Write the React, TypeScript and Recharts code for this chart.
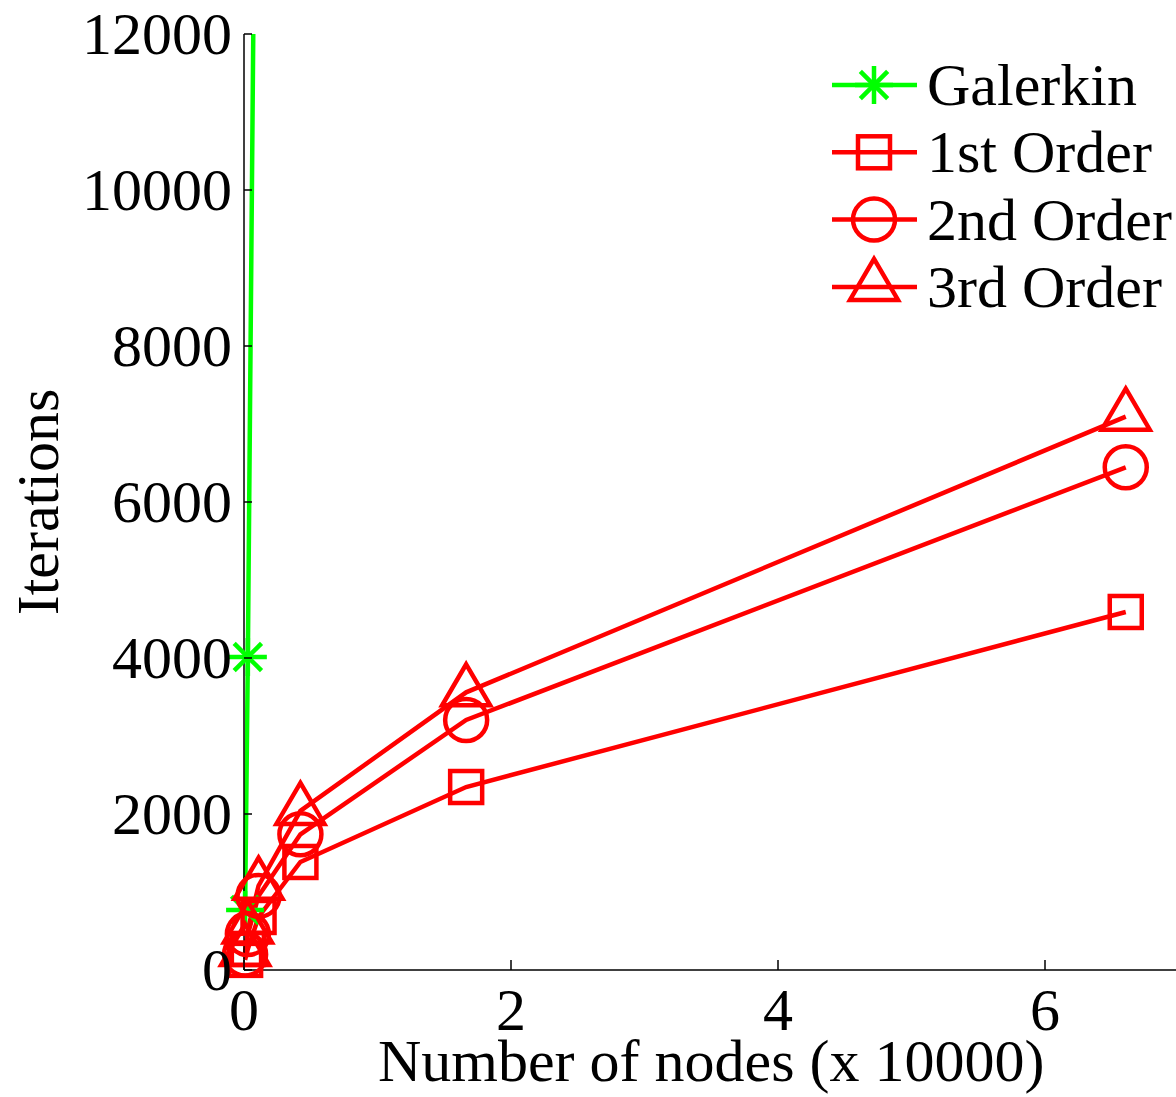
import React from 'react';
import { ComposedChart, Line, Scatter, XAxis, YAxis, Legend } from 'recharts';

// Number of nodes, in units of 10000
const nodesX = [0.0081, 0.0289, 0.1089, 0.4225, 1.6641, 6.6049];
const firstOrder = [130, 270, 680, 1385, 2346, 4590];
const secondOrder = [200, 460, 950, 1740, 3205, 6445];
const thirdOrder = [230, 520, 1080, 2040, 3560, 7094];

const galerkinX = [0.0081, 0.0289, 0.1089];
const galerkinY = [770, 4013, 19800];

const xTicks = [0, 2, 4, 6];
const yTicks = [0, 2000, 4000, 6000, 8000, 10000, 12000];

const RED = '#ff0000';
const GREEN = '#00ff00';
const FONT = '"Liberation Serif", "Times New Roman", serif';
const FS = 60;

// layout constants
const CHART_W = 1190;
const CHART_H = 1097;
const M_TOP = 34;
const M_RIGHT = 11.5;
const Y_AXIS_W = 244;
const X_AXIS_H = 127;
const AXIS_X = Y_AXIS_W; // left margin is 0
const AXIS_Y = CHART_H - X_AXIS_H;

const toPts = (xs: number[], ys: number[]) => xs.map((x, i) => ({ x, y: ys[i] }));
const firstData = toPts(nodesX, firstOrder);
const secondData = toPts(nodesX, secondOrder);
const thirdData = toPts(nodesX, thirdOrder);
const galerkinData = toPts(galerkinX, galerkinY);
const galerkinVisible = galerkinData.filter((p) => p.y <= 12000);

const SW = 4.5;

const squarePath = (cx: number, cy: number) => (
  <rect x={cx - 16} y={cy - 16} width={32} height={32} fill="none" stroke={RED} strokeWidth={SW} />
);
const circlePath = (cx: number, cy: number) => (
  <circle cx={cx} cy={cy} r={21} fill="none" stroke={RED} strokeWidth={SW} />
);
const trianglePath = (cx: number, cy: number) => (
  <path
    d={`M${cx},${cy - 28} L${cx + 24},${cy + 13} L${cx - 24},${cy + 13} Z`}
    fill="none"
    stroke={RED}
    strokeWidth={SW}
    strokeLinejoin="miter"
  />
);
const starPath = (cx: number, cy: number) => {
  const a = 19;
  const d = a * 0.72;
  return (
    <g stroke={GREEN} strokeWidth={SW}>
      <line x1={cx - a} y1={cy} x2={cx + a} y2={cy} />
      <line x1={cx} y1={cy - a} x2={cx} y2={cy + a} />
      <line x1={cx - d} y1={cy - d} x2={cx + d} y2={cy + d} />
      <line x1={cx - d} y1={cy + d} x2={cx + d} y2={cy - d} />
    </g>
  );
};

const SquareDot = (p: any) => <g key={p.key ?? p.index}>{squarePath(p.cx, p.cy)}</g>;
const CircleDot = (p: any) => <g key={p.key ?? p.index}>{circlePath(p.cx, p.cy)}</g>;
const TriangleDot = (p: any) => <g key={p.key ?? p.index}>{trianglePath(p.cx, p.cy)}</g>;
const StarShape = (p: any) => <g>{starPath(p.cx, p.cy)}</g>;

const YTick = (props: any) => {
  const { y, payload } = props;
  return (
    <g>
      <line x1={AXIS_X} y1={y} x2={AXIS_X + 8} y2={y} stroke="#000" strokeWidth={1.5} />
      <text x={AXIS_X - 12} y={y} dy="0.34em" textAnchor="end" fontFamily={FONT} fontSize={FS} fill="#000">
        {payload.value}
      </text>
    </g>
  );
};

const XTick = (props: any) => {
  const { x, payload } = props;
  return (
    <g>
      <line x1={x} y1={AXIS_Y} x2={x} y2={AXIS_Y - 10} stroke="#000" strokeWidth={1.5} />
      <text x={x} y={AXIS_Y + 60} textAnchor="middle" fontFamily={FONT} fontSize={FS} fill="#000">
        {payload.value}
      </text>
    </g>
  );
};

const legendItems = [
  { name: 'Galerkin', color: GREEN, marker: starPath },
  { name: '1st Order', color: RED, marker: squarePath },
  { name: '2nd Order', color: RED, marker: circlePath },
  { name: '3rd Order', color: RED, marker: trianglePath },
];

const LegendContent = () => (
  <svg width={356} height={290} style={{ display: 'block' }}>
    {legendItems.map((it, i) => {
      const cy = 45 + i * 67.3;
      return (
        <g key={it.name}>
          <line x1={12} y1={cy} x2={97} y2={cy} stroke={it.color} strokeWidth={SW} />
          {it.marker(54, cy)}
          <text x={107} y={cy + 20} fontFamily={FONT} fontSize={FS} fill="#000">
            {it.name}
          </text>
        </g>
      );
    })}
  </svg>
);

export default function App() {
  return (
    <div style={{ position: 'absolute', left: 0, top: 0, width: 1176, height: 1097, overflow: 'hidden', background: '#fff' }}>
      <ComposedChart width={CHART_W} height={CHART_H} margin={{ top: M_TOP, right: M_RIGHT, left: 0, bottom: 0 }}>
        <XAxis
          type="number"
          dataKey="x"
          domain={[0, 7]}
          ticks={xTicks}
          interval={0}
          height={X_AXIS_H}
          tickSize={0}
          tickMargin={0}
          tickLine={false}
          tick={XTick}
          axisLine={{ stroke: '#000', strokeWidth: 1.5 }}
          label={{
            content: (p: any) => {
              const vb = p.viewBox || {};
              return (
                <text x={vb.x + vb.width / 2} y={1081} textAnchor="middle" fontFamily={FONT} fontSize={FS} fill="#000">
                  Number of nodes (x 10000)
                </text>
              );
            },
          }}
        />
        <YAxis
          yAxisId="main"
          type="number"
          domain={[0, 12000]}
          ticks={yTicks}
          interval={0}
          width={Y_AXIS_W}
          tickSize={0}
          tickMargin={0}
          tickLine={false}
          tick={YTick}
          axisLine={{ stroke: '#000', strokeWidth: 1.5 }}
          label={{
            content: (p: any) => {
              const vb = p.viewBox || {};
              const cy = vb.y + vb.height / 2;
              return (
                <text
                  x={58}
                  y={cy}
                  transform={`rotate(-90, 58, ${cy})`}
                  textAnchor="middle"
                  fontFamily={FONT}
                  fontSize={FS}
                  fill="#000"
                >
                  Iterations
                </text>
              );
            },
          }}
        />
        <YAxis yAxisId="clip" type="number" domain={[0, 12000]} allowDataOverflow hide width={0} />
        <Legend
          layout="vertical"
          align="center"
          verticalAlign="middle"
          content={LegendContent}
          wrapperStyle={{ position: 'absolute', left: 820, top: 40, width: 356, height: 290 }}
        />
        <Line
          yAxisId="clip"
          data={galerkinData}
          dataKey="y"
          type="linear"
          stroke={GREEN}
          strokeWidth={SW}
          dot={false}
          activeDot={false}
          isAnimationActive={false}
          name="Galerkin"
        />
        <Scatter
          yAxisId="main"
          data={galerkinVisible}
          dataKey="y"
          shape={StarShape}
          isAnimationActive={false}
          name="Galerkin markers"
          legendType="none"
        />
        <Line
          yAxisId="main"
          data={firstData}
          dataKey="y"
          type="linear"
          stroke={RED}
          strokeWidth={SW}
          dot={SquareDot}
          activeDot={false}
          isAnimationActive={false}
          name="1st Order"
        />
        <Line
          yAxisId="main"
          data={secondData}
          dataKey="y"
          type="linear"
          stroke={RED}
          strokeWidth={SW}
          dot={CircleDot}
          activeDot={false}
          isAnimationActive={false}
          name="2nd Order"
        />
        <Line
          yAxisId="main"
          data={thirdData}
          dataKey="y"
          type="linear"
          stroke={RED}
          strokeWidth={SW}
          dot={TriangleDot}
          activeDot={false}
          isAnimationActive={false}
          name="3rd Order"
        />
      </ComposedChart>
    </div>
  );
}
